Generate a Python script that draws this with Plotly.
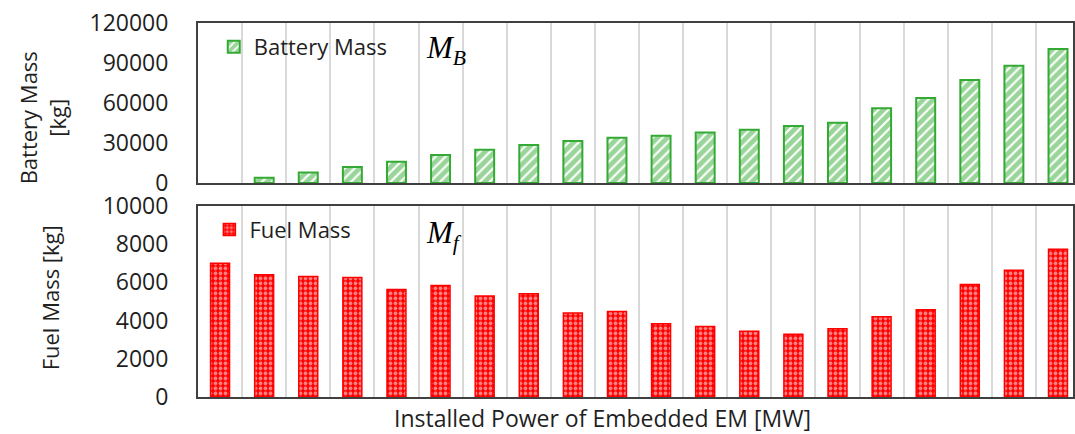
import plotly.graph_objects as go

categories = list(range(20))
battery_mass = [None, 4000, 8000, 12000, 16000, 21000, 25000, 28500, 31500, 34000,
                35500, 38000, 40000, 42750, 45250, 56000, 63750, 77250, 88000, 100500]
fuel_mass = [7000, 6400, 6300, 6250, 5620, 5840, 5280, 5400, 4390, 4480,
             3830, 3690, 3445, 3290, 3570, 4195, 4560, 5890, 6630, 7730]
battery_ticks = [0, 30000, 60000, 90000, 120000]
fuel_ticks = [0, 2000, 4000, 6000, 8000, 10000]

GREEN = "#34aa34"
RED = "#ff0000"
TXT = "#1f1f1f"
FONT = "Open Sans"

fig = go.Figure()
fig.add_trace(go.Bar(
    x=categories, y=battery_mass, name="Battery Mass", width=0.43,
    marker=dict(color="white", line=dict(color=GREEN, width=2),
                pattern=dict(shape="/", fgcolor=GREEN, bgcolor="white", size=7, solidity=0.7)),
    xaxis="x", yaxis="y", legend="legend"))
fig.add_trace(go.Bar(
    x=categories, y=fuel_mass, name="Fuel Mass", width=0.43,
    marker=dict(color=RED, line=dict(color=RED, width=1.5),
                pattern=dict(shape=".", fgcolor="white", bgcolor=RED, size=5, solidity=0.45)),
    xaxis="x2", yaxis="y2", legend="legend2"))

xcommon = dict(range=[-0.5, 19.34], tickmode="array",
               tickvals=[i + 0.5 for i in range(19)], showticklabels=False,
               showgrid=True, gridcolor="#d9d9d9", gridwidth=2, ticks="",
               showline=True, linecolor="#404040", linewidth=2, mirror=True, zeroline=False)
ycommon = dict(showgrid=False, zeroline=False, showline=True, linecolor="#404040",
               linewidth=2, mirror=True, ticks="", ticklabelstandoff=23,
               tickfont=dict(family=FONT, size=23, color=TXT))

fig.update_layout(
    width=1075, height=434,
    margin=dict(l=198, r=0, t=23, b=37),
    plot_bgcolor="white", paper_bgcolor="white",
    font=dict(family=FONT, color=TXT, size=22),
    bargap=0.5,
    xaxis=dict(domain=[0, 1], anchor="y", **xcommon),
    xaxis2=dict(domain=[0, 1], anchor="y2", **xcommon),
    yaxis=dict(domain=[0.572, 1], anchor="x", range=[0, 120000],
               tickvals=battery_ticks, ticktext=[str(v) for v in battery_ticks], **ycommon),
    yaxis2=dict(domain=[0, 0.511], anchor="x2", range=[0, 10000],
                tickvals=fuel_ticks, ticktext=[str(v) for v in fuel_ticks], **ycommon),
    legend=dict(x=0.018, y=0.936, xanchor="left", yanchor="middle", bgcolor="rgba(0,0,0,0)",
                font=dict(family=FONT, size=22, color=TXT), itemwidth=30),
    legend2=dict(x=0.013, y=0.447, xanchor="left", yanchor="middle", bgcolor="rgba(0,0,0,0)",
                 font=dict(family=FONT, size=22, color=TXT), itemwidth=30),
    showlegend=True,
)

ann = [
    dict(text="Battery Mass<br>[kg]", x=42, y=118, textangle=-90, size=22),
    dict(text="Fuel Mass [kg]", x=50, y=298, textangle=-90, size=22),
    dict(text="Installed Power of Embedded EM [MW]", x=603, y=418, textangle=0, size=23),
]
for a in ann:
    fig.add_annotation(text=a["text"], textangle=a["textangle"], showarrow=False,
                       xref="paper", yref="paper",
                       x=(a["x"] - 198) / 877, y=(397 - a["y"]) / 374,
                       xanchor="center", yanchor="middle", borderpad=0,
                       font=dict(family=FONT, size=a["size"], color=TXT))

for txt, px, py in [("<i>M</i><sub><i>B</i></sub>", 447, 50), ("<i>M</i><sub><i>f</i></sub>", 445, 235)]:
    fig.add_annotation(text=txt, showarrow=False, xref="paper", yref="paper",
                       x=(px - 198) / 877, y=(397 - py) / 374, xanchor="center", yanchor="middle",
                       font=dict(family="Liberation Serif", size=31, color="black"))

fig.write_html("out.html")
